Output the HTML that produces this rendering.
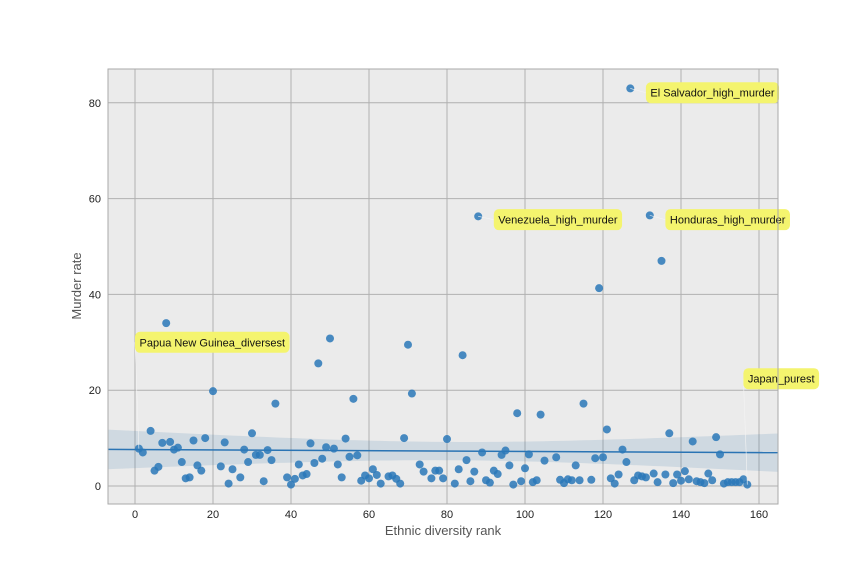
<!DOCTYPE html>
<html><head><meta charset="utf-8"><style>
body{margin:0;background:#fff;font-family:"Liberation Sans",sans-serif}
svg text{font-family:"Liberation Sans",sans-serif}
</style></head><body>
<svg id="chart" width="864" height="576" xmlns="http://www.w3.org/2000/svg">
<rect x="108" y="69" width="670" height="435" fill="#ebebeb"/>
<g id="grid"></g><g id="band"></g><g id="pts"></g><g id="ann"></g><g id="ticks"></g>
<rect x="108" y="69" width="670" height="435" fill="none" stroke="#aaa" stroke-width="1"/>
<text x="443" y="535" text-anchor="middle" font-size="13" fill="#555">Ethnic diversity rank</text>
<text transform="translate(81,286) rotate(-90)" text-anchor="middle" font-size="13" fill="#555">Murder rate</text>
</svg>
<script>
const ranks=[1,2,4,5,6,7,8,9,10,11,12,13,14,15,16,17,18,20,22,23,24,25,27,28,29,30,31,32,33,34,35,36,39,40,41,42,43,44,45,46,47,48,49,50,51,52,53,54,55,56,57,58,59,60,61,62,63,65,66,67,68,69,70,71,73,74,76,77,78,79,80,82,83,84,85,86,87,88,89,90,91,92,93,94,95,96,97,98,99,100,101,102,103,104,105,108,109,110,111,112,113,114,115,117,118,119,120,121,122,123,124,125,126,127,128,129,130,131,132,133,134,135,136,137,138,139,140,141,142,143,144,145,146,147,148,149,150,151,152,153,154,155,156,157];
const murderRates=[7.8,7,11.5,3.2,4,9,34,9.2,7.6,8,5,1.6,1.8,9.5,4.3,3.2,10,19.8,4.1,9.1,0.5,3.5,1.8,7.6,5,11,6.5,6.5,1,7.5,5.4,17.2,1.8,0.3,1.5,4.5,2.2,2.5,8.9,4.8,25.6,5.7,8.1,30.8,7.8,4.5,1.8,9.9,6.1,18.2,6.4,1.1,2.2,1.6,3.5,2.3,0.5,2,2.2,1.5,0.5,10,29.5,19.3,4.5,3,1.6,3.2,3.2,1.6,9.8,0.5,3.5,27.3,5.4,1,3,56.3,7,1.2,0.7,3.2,2.5,6.5,7.4,4.3,0.3,15.2,1,3.7,6.6,0.8,1.2,14.9,5.3,6,1.3,0.6,1.4,1.2,4.3,1.2,17.2,1.3,5.8,41.3,6,11.8,1.6,0.5,2.4,7.6,5,83,1.2,2.2,2,1.8,56.5,2.6,0.8,47,2.4,11,0.6,2.4,1.1,3.1,1.4,9.3,1,0.8,0.6,2.6,1.2,10.2,6.6,0.5,0.8,0.8,0.8,0.8,1.4,0.3];
const xTicks=[0,20,40,60,80,100,120,140,160];
const yTicks=[0,20,40,60,80];
const annLabels=["El Salvador_high_murder","Venezuela_high_murder","Honduras_high_murder","Papua New Guinea_diversest","Japan_purest"];
const annX=[131,92,136,0,156];
const annY=[82.1,55.6,55.6,30,22.4];
const annPoint=[[127,83],[88,56.3],[132,56.5],[1,7.8],[157,0.3]];

const X=v=>135+(v)*3.9, Y=v=>486-v*4.79;
const ns="http://www.w3.org/2000/svg";
function mk(tag,parent,attrs){const e=document.createElementNS(ns,tag);for(const k in attrs)e.setAttribute(k,attrs[k]);document.getElementById(parent).appendChild(e);return e;}
xTicks.forEach(t=>{
  const l=mk('line','grid',{x1:X(t),x2:X(t),y1:69,y2:504,stroke:'#b0b0b0','stroke-width':1});
  
  
  const tx=mk('text','ticks',{x:X(t),y:518,'text-anchor':'middle','font-size':11,fill:'#222'});tx.textContent=t;
  
  
});
yTicks.forEach(t=>{
  const l=mk('line','grid',{x1:108,x2:778,y1:Y(t),y2:Y(t),stroke:'#b0b0b0','stroke-width':1});
  
  
  const tx=mk('text','ticks',{x:101,y:Y(t)+4,'text-anchor':'end','font-size':11,fill:'#222'});tx.textContent=t;
  
  
});
const n=ranks.length,mx=ranks.reduce((a,b)=>a+b)/n,my=murderRates.reduce((a,b)=>a+b)/n;
let sxx=0,sxy=0;for(let i=0;i<n;i++){sxx+=(ranks[i]-mx)**2;sxy+=(ranks[i]-mx)*(murderRates[i]-my);}
const b=sxy/sxx,a=my-b*mx;let sse=0;for(let i=0;i<n;i++)sse+=(murderRates[i]-a-b*ranks[i])**2;
const s=Math.sqrt(sse/(n-2));
const up=[],lo=[];for(let x=-7;x<=165;x+=2){const f=a+b*x,se=1.97*s*Math.sqrt(1/n+(x-mx)**2/sxx);up.push(X(x)+','+Y(f+se));lo.unshift(X(x)+','+Y(f-se));}
const band=mk('polygon','band',{points:up.concat(lo).join(' '),fill:'#2f6fa8','fill-opacity':0.15});


const rl=mk('line','band',{x1:X(-7),y1:Y(a+b*-7),x2:X(165),y2:Y(a+b*165),stroke:'#2a74b4','stroke-width':1.5});


for(let i=0;i<n;i++){
  const c=mk('circle','pts',{cx:X(ranks[i]),cy:Y(murderRates[i]),r:4,fill:'#2a78b8','fill-opacity':0.85});
  
  
}
annLabels.forEach((t,i)=>{
  const ax=X(annX[i]),ay=Y(annY[i]);
  const ln=mk('line','ann',{x1:ax,y1:ay,x2:X(annPoint[i][0]),y2:Y(annPoint[i][1]),stroke:'#f4f4f4','stroke-width':0.6});
  
  
  const r=mk('rect','ann',{x:ax,y:ay-10.5,width:10,height:21,rx:5,fill:'#f4f46e'});
  
  
  const tx=mk('text','ann',{x:ax+4.5,y:ay+4,'font-size':11,fill:'#111'});tx.textContent=t;
  
  
  r.setAttribute('width',tx.getComputedTextLength()+9);
});
</script>
</body></html>
